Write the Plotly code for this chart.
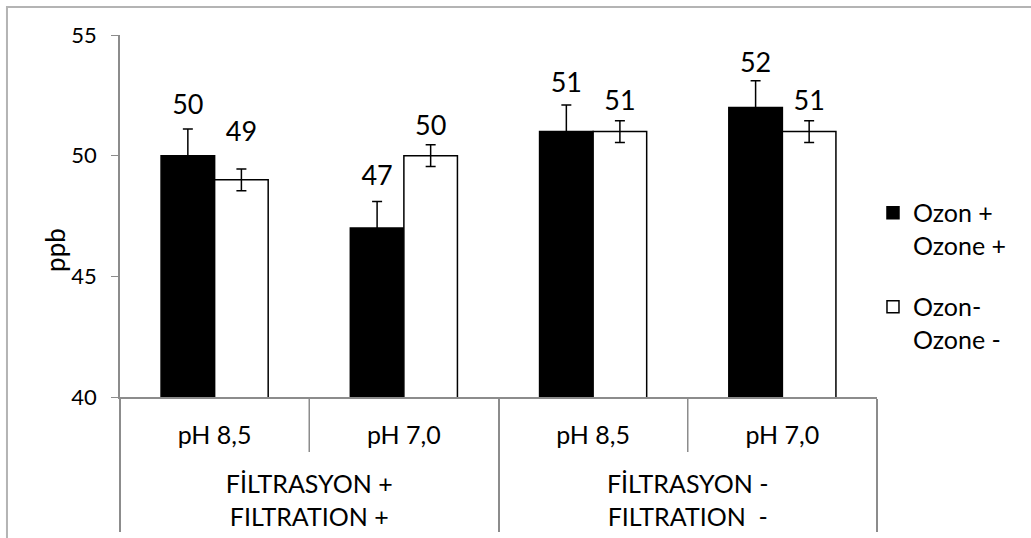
import plotly.graph_objects as go

groups = ["<br>FİLTRASYON +<br>FILTRATION +", "<br>FİLTRASYON +<br>FILTRATION +",
          "<br>FİLTRASYON -<br>FILTRATION  -", "<br>FİLTRASYON -<br>FILTRATION  -"]
ph_labels = ["pH 8,5", "pH 7,0", "pH 8,5", "pH 7,0"]

ozon_plus = [50, 47, 51, 52]
ozon_plus_err = [1.1, 1.1, 1.1, 1.1]
ozon_minus = [49, 50, 51, 51]
ozon_minus_err = [0.45, 0.45, 0.45, 0.45]

names = ["Ozon +<br>Ozone +", "Ozon-<br>Ozone -"]

# styling: invisible marker sizes that lift each value label above its bar
lift_plus = [54, 57, 51, 44]
lift_minus = [49, 20, 22, 22]

FONT = "Lato"
GRAY = "#8c8c8c"
x = [groups, ph_labels]

fig = go.Figure()
series = [(ozon_plus, ozon_plus_err, "black", names[0], "g1", lift_plus),
          (ozon_minus, ozon_minus_err, "white", names[1], "g2", lift_minus)]
for vals, err, col, name, og, lift in series:
    fig.add_trace(go.Bar(
        x=x, y=vals, name=name, legendgroup=og, offsetgroup=og,
        marker=dict(color=col, line=dict(color="black", width=1.5)),
        error_y=dict(type="data", array=err, color="black", thickness=1.5, width=5),
    ))
for vals, err, col, name, og, lift in series:
    fig.add_trace(go.Scatter(
        x=x, y=vals, mode="markers+text", text=[str(v) for v in vals],
        textposition="top center", offsetgroup=og, showlegend=False,
        marker=dict(size=lift, opacity=0), hoverinfo="skip",
        textfont=dict(family=FONT, size=27, color="black"),
        cliponaxis=False,
    ))

n_cat = len(ph_labels)
sep_shapes = [dict(type="line", xref="paper", yref="paper", x0=k / n_cat, x1=k / n_cat,
                   y0=0, y1=-0.152, line=dict(color=GRAY, width=1.5))
              for k in (1, 3)]

fig.update_layout(
    width=1031, height=538,
    margin=dict(l=120, r=154, t=35, b=141),
    paper_bgcolor="white", plot_bgcolor="white",
    barmode="group", bargap=0.434, bargroupgap=0,
    scattermode="group", scattergap=0.434,
    font=dict(family=FONT, color="black"),
    showlegend=True,
    legend=dict(x=0.9947, xanchor="left", y=0.572, yanchor="top", valign="top",
                font=dict(family=FONT, size=25, color="black"),
                tracegroupgap=26, bgcolor="rgba(0,0,0,0)"),
    xaxis=dict(type="multicategory", showline=True, linecolor=GRAY, linewidth=1.5,
               showgrid=False, ticks="", ticklabelstandoff=15, automargin=False,
               showdividers=True, dividercolor=GRAY, dividerwidth=1.5,
               tickfont=dict(family=FONT, size=25, color="black")),
    yaxis=dict(range=[40, 55], dtick=5, tick0=40, showline=True, linecolor=GRAY,
               linewidth=1.5, ticks="outside", ticklen=7, tickcolor=GRAY,
               ticklabelstandoff=10, automargin=False,
               showgrid=False, zeroline=False,
               tickfont=dict(family=FONT, size=22, color="black")),
    annotations=[dict(text="ppb", xref="paper", yref="paper", x=-0.086, y=0.406,
                      xanchor="center", yanchor="middle",
                      textangle=-90, showarrow=False,
                      font=dict(family=FONT, size=26, color="black"))],
    shapes=[dict(type="rect", xref="paper", yref="paper", x0=-0.1493, x1=2,
                 y0=-2, y1=1.0773, line=dict(color="#b4b4b4", width=2),
                 fillcolor="rgba(0,0,0,0)", layer="below")] + sep_shapes,
)

fig.write_html("out.html")
